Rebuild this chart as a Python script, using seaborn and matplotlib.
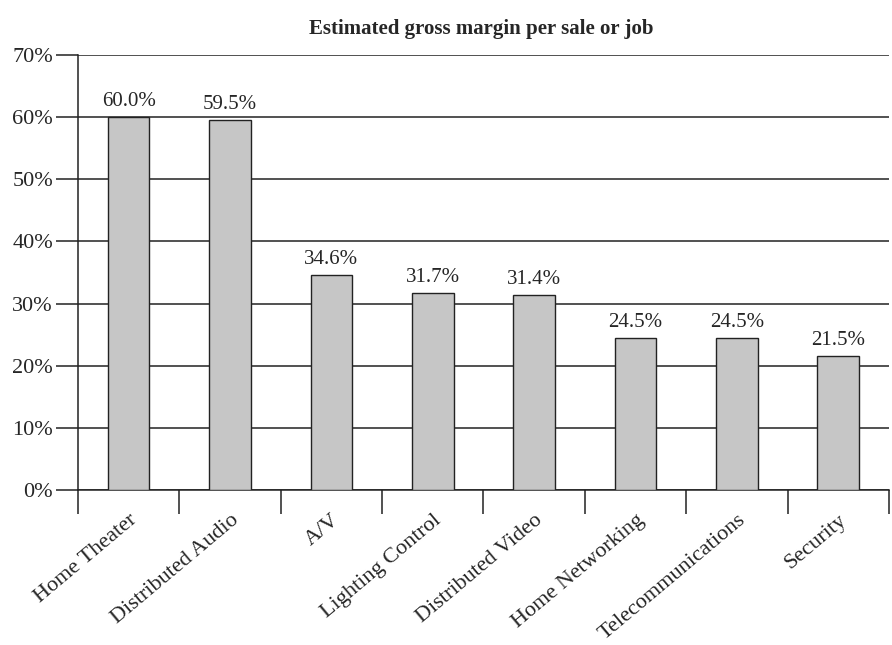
import matplotlib
matplotlib.use("Agg")
import matplotlib.pyplot as plt
import seaborn as sns
import pandas as pd

categories = ["Home Theater", "Distributed Audio", "A/V", "Lighting Control",
              "Distributed Video", "Home Networking", "Telecommunications", "Security"]
margins = [60.0, 59.5, 34.6, 31.7, 31.4, 24.5, 24.5, 21.5]
yticks = [0, 10, 20, 30, 40, 50, 60, 70]
title = "Estimated gross margin per sale or job"

sns.set_style("white")
plt.rcParams["font.family"] = ["Liberation Serif", "DejaVu Serif"]

df = pd.DataFrame({"category": categories, "margin": margins})

fig = plt.figure(figsize=(8.92, 6.45), dpi=100)
ax = fig.add_axes([0.0874, 0.2403, 0.9092, 0.6744])

sns.barplot(data=df, x="category", y="margin", ax=ax, color="#c6c6c6",
            saturation=1, edgecolor="#222222", linewidth=1.0, width=0.41, zorder=3)

ax.set_ylim(0, 70)
ax.set_xlim(-0.5, len(categories) - 0.5)
ax.set_yticks(yticks)
ax.set_yticklabels([f"{v}%" for v in yticks], fontsize=16)
for v in yticks:
    ax.axhline(v, color="#222222", lw=1.1, zorder=1)

ax.set_xticks(range(len(categories)))
ax.set_xticklabels(categories, rotation=40, ha="right", rotation_mode="anchor",
                   fontsize=16)
ax.set_xticks([i - 0.5 for i in range(len(categories) + 1)], minor=True)
ax.tick_params(axis="x", which="both", bottom=True)
ax.tick_params(axis="y", which="both", left=True)
ax.tick_params(axis="x", which="major", length=0, pad=15)
ax.tick_params(axis="x", which="minor", length=17, width=1.1, color="#222222", direction="out")
ax.tick_params(axis="y", which="major", length=16, width=1.1, color="#222222",
               direction="out", pad=2)

for s in ["top", "right"]:
    ax.spines[s].set_visible(False)
ax.spines["left"].set_color("#222222")
ax.spines["bottom"].set_color("#222222")
ax.spines["left"].set_linewidth(1.1)
ax.spines["bottom"].set_linewidth(1.1)

for i, v in enumerate(margins):
    ax.text(i, v + 1.0, f"{v:.1f}%", ha="center", va="bottom", fontsize=15, zorder=4)

ax.set_xlabel("")
ax.set_ylabel("")
fig.text(0.539, 0.955, title, ha="center", va="center", fontsize=15, fontweight="bold")

fig.savefig("out.png", dpi=100)
